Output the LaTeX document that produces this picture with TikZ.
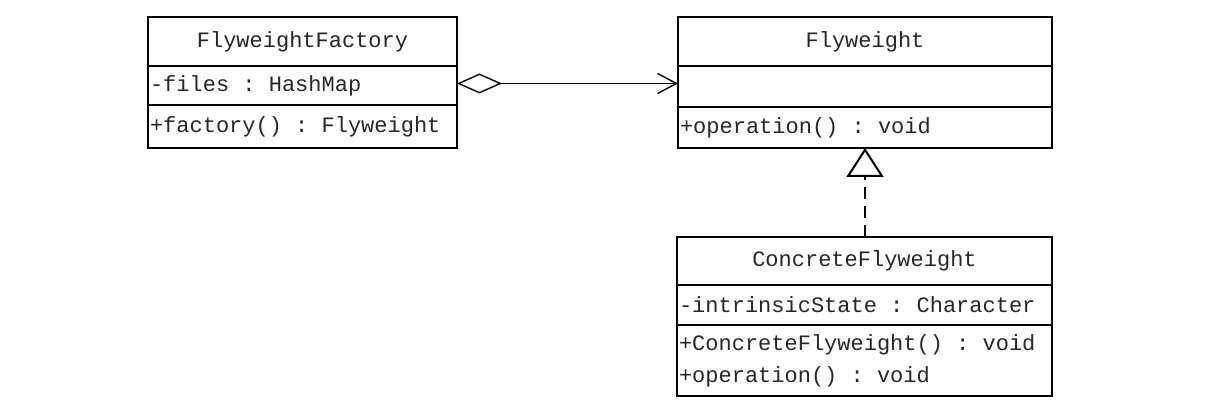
\documentclass[tikz,border=0pt]{standalone}
\usepackage{fontspec}
\setmonofont{Liberation Mono}
\usetikzlibrary{positioning,arrows.meta}
\newcommand{\umlfont}{\ttfamily\fontsize{11}{16}\selectfont}
\newcommand{\umlcolon}{\hspace{0.6em}:\hspace{0.6em}}

\begin{document}
\begin{tikzpicture}[x=0.5pt, y=-0.5pt, line width=1pt,
	every node/.style={font=\umlfont, text=black!85, outer sep=0pt},
	umltitle/.style 2 args={draw, inner sep=0pt, minimum width=#1, minimum height=#2},
	umlpart/.style 2 args={draw, inner xsep=1pt, inner ysep=0pt, text width=#1, minimum height=#2, align=left},
	assoc/.style={line width=0.7pt, {Diamond[open, length=22.5pt, width=10pt]}-{Straight Barb[length=9.5pt, width=10pt]}},
	realize/.style={line width=0.8pt, dash pattern=on 6pt off 3.5pt, -{Triangle[open, length=14.5pt, width=18.5pt, line width=1pt]}}]
	\useasboundingbox (0,0) rectangle (1213,415);
	
	% === 工厂类 ===
	\node[umltitle={154.5pt}{24.5pt}, anchor=north west] (facttitle) at (148,17) {FlyweightFactory};
	\node[umlpart={152.5pt}{19.5pt}, below=0pt of facttitle] (factattr) {-files\umlcolon HashMap};
	\node[umlpart={152.5pt}{21.5pt}, below=0pt of factattr] (factops) {+factory()\umlcolon Flyweight};
	
	% === 享元接口 ===
	\node[umltitle={187pt}{24.5pt}, anchor=north west] (flytitle) at (678,17) {Flyweight};
	\node[umlpart={185pt}{20.5pt}, below=0pt of flytitle] (flyattr) {};
	\node[umlpart={185pt}{20.5pt}, below=0pt of flyattr] (flyops) {+operation()\umlcolon void};
	
	% === 具体享元 ===
	\node[umltitle={187.5pt}{24pt}, anchor=north west] (conctitle) at (677,237) {ConcreteFlyweight};
	\node[umlpart={185.5pt}{20pt}, below=0pt of conctitle] (concattr) {-intrinsicState\umlcolon Character};
	\node[umlpart={185.5pt}{35.5pt}, below=0pt of concattr] (concops) {+ConcreteFlyweight()\umlcolon void\\+operation()\umlcolon void};
	
	% 聚合与实现
	\draw[assoc] ([yshift=1pt]factattr.east) -- ([yshift=1pt]factattr.east -| flyattr.west);
	\draw[realize] (conctitle.north -| flyops.south) -- (flyops.south);
\end{tikzpicture}
\end{document}
